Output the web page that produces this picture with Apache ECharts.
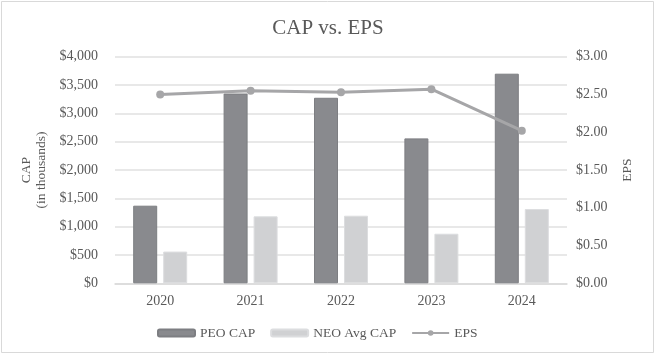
<!DOCTYPE html>
<html>
<head>
<meta charset="utf-8">
<script src="https://cdn.jsdelivr.net/npm/echarts@6/dist/echarts.min.js"></script>
<style>
html,body{margin:0;padding:0;background:#fff;}
#chart{width:656px;height:355px;}
</style>
</head>
<body>
<div id="chart"></div>
<script>
const categories = ['2020', '2021', '2022', '2023', '2024'];
const peoCap = [1370, 3350, 3275, 2558, 3700];
const neoAvgCap = [560, 1182, 1193, 875, 1311];
const eps = [2.50, 2.55, 2.53, 2.57, 2.02];
const capTicks = { min: 0, max: 4000, interval: 500 };
const epsTicks = { min: 0, max: 3, interval: 0.5 };

const FONT = '"Liberation Serif", "Times New Roman", serif';
const TXT = '#595959';

const chart = echarts.init(document.getElementById('chart'), null, { renderer: 'canvas' });
chart.setOption({
  animation: false,
  backgroundColor: '#ffffff',
  textStyle: { fontFamily: FONT, color: TXT },
  title: {
    text: 'CAP vs. EPS',
    left: 'center',
    top: 13,
    textStyle: { fontFamily: FONT, fontSize: 21, fontWeight: 'normal', color: TXT }
  },
  graphic: [{
    type: 'rect',
    shape: { x: 1.5, y: 1.5, width: 652, height: 351 },
    style: { fill: 'none', stroke: '#d9d9d9', lineWidth: 1 },
    silent: true
  }],
  legend: {
    left: 152,
    top: 321,
    itemWidth: 37,
    itemHeight: 7,
    itemGap: 15,
    textStyle: { fontFamily: FONT, fontSize: 13.5, color: TXT },
    data: ['PEO CAP', 'NEO Avg CAP', 'EPS']
  },
  grid: { left: 115, right: 89, top: 56.7, bottom: 71.7, containLabel: false },
  xAxis: {
    type: 'category',
    data: categories,
    axisTick: { show: false },
    axisLine: { show: true, lineStyle: { color: '#d9d9d9', width: 1.5 } },
    axisLabel: { margin: 11, fontFamily: FONT, fontSize: 14, color: TXT }
  },
  yAxis: [{
    type: 'value',
    min: capTicks.min, max: capTicks.max, interval: capTicks.interval,
    name: 'CAP\n(in thousands)',
    nameLocation: 'middle',
    nameGap: 64,
    nameRotate: 90,
    nameTextStyle: { fontFamily: FONT, fontSize: 13.5, color: TXT, lineHeight: 15 },
    axisLine: { show: false },
    axisTick: { show: false },
    splitLine: { lineStyle: { color: '#e0e0e0', width: 1.5 } },
    axisLabel: {
      margin: 17,
      fontFamily: FONT, fontSize: 14, color: TXT,
      formatter: v => '$' + v.toLocaleString('en-US')
    }
  }, {
    type: 'value',
    min: epsTicks.min, max: epsTicks.max, interval: epsTicks.interval,
    name: 'EPS',
    nameLocation: 'middle',
    nameGap: 53,
    nameRotate: 90,
    nameTextStyle: { fontFamily: FONT, fontSize: 13.5, color: TXT },
    axisLine: { show: false },
    axisTick: { show: false },
    splitLine: { show: false },
    axisLabel: {
      margin: 9,
      fontFamily: FONT, fontSize: 14, color: TXT,
      formatter: v => '$' + v.toFixed(2)
    }
  }],
  series: [{
    name: 'PEO CAP',
    type: 'bar',
    data: peoCap,
    barWidth: 24,
    barGap: '25%',
    itemStyle: { color: '#898a8e', borderColor: '#7d7e82', borderWidth: 1 }
  }, {
    name: 'NEO Avg CAP',
    type: 'bar',
    data: neoAvgCap,
    barWidth: 24,
    itemStyle: { color: '#d0d1d3', borderColor: '#dcdddf', borderWidth: 1 }
  }, {
    name: 'EPS',
    type: 'line',
    yAxisIndex: 1,
    data: eps,
    symbol: 'circle',
    symbolSize: 8,
    lineStyle: { color: '#a6a6a8', width: 3 },
    itemStyle: { color: '#a6a6a8' }
  }]
});
</script>
</body>
</html>
